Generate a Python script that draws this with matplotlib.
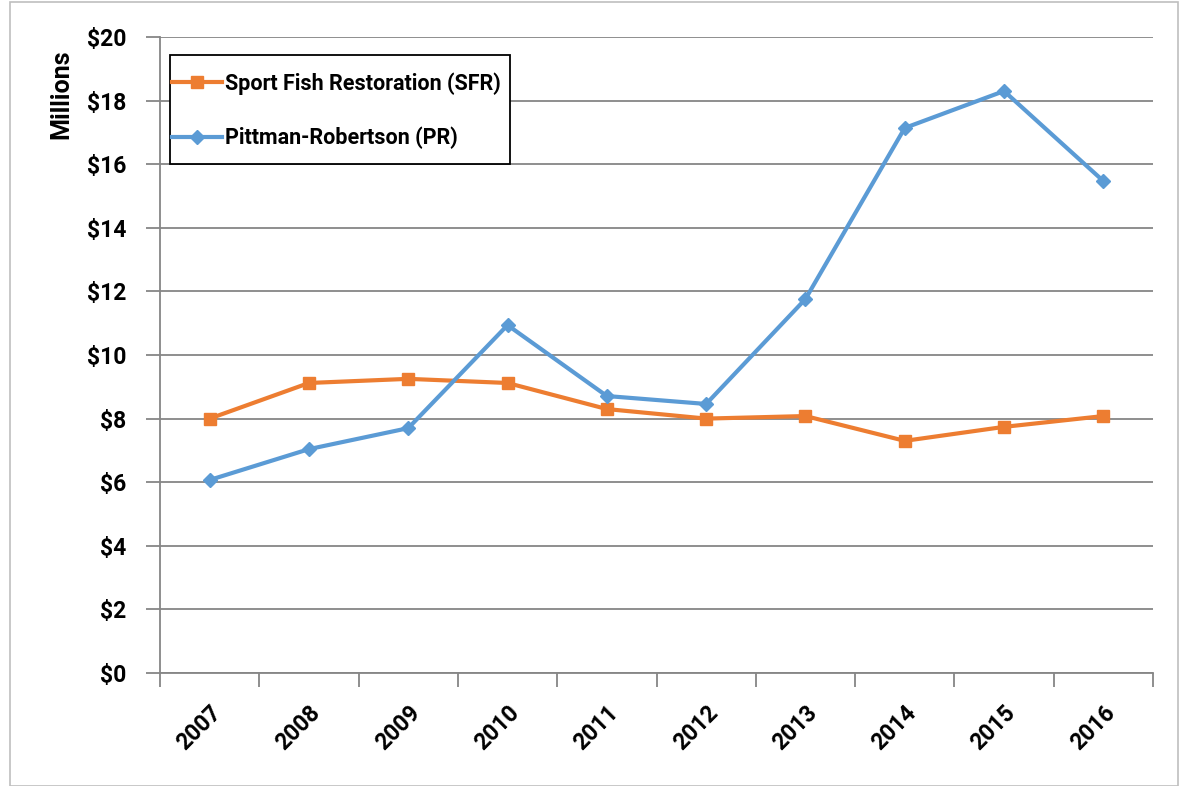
import matplotlib
matplotlib.use("Agg")
import matplotlib.pyplot as plt
from matplotlib.patches import Rectangle

years = ["2007", "2008", "2009", "2010", "2011", "2012", "2013", "2014", "2015", "2016"]
sfr = [8.0, 9.12, 9.25, 9.12, 8.3, 8.0, 8.08, 7.3, 7.74, 8.08]
pr = [6.07, 7.04, 7.7, 10.94, 8.71, 8.46, 11.76, 17.14, 18.3, 15.47]
yticks = [0, 2, 4, 6, 8, 10, 12, 14, 16, 18, 20]

plt.rcParams["font.family"] = ["Roboto", "DejaVu Sans"]

W, H = 1186, 786
fig = plt.figure(figsize=(W / 100, H / 100), dpi=100)
ax = fig.add_axes([160 / W, 1 - 673 / H, (1153 - 160) / W, (673 - 37) / H])

# figure border
fig.patches.append(Rectangle((10 / W, 0), (1178 - 10) / W, 1 - 2 / H, transform=fig.transFigure,
                             fill=False, edgecolor="#bfbfbf", lw=1.2))

x = list(range(len(years)))
ax.plot(x, sfr, color="#ed7d31", lw=3, marker="s", ms=9, label="Sport Fish Restoration (SFR)")
ax.plot(x, pr, color="#5b9bd5", lw=3, marker="D", ms=7, label="Pittman-Robertson (PR)")

ax.set_xlim(-0.5, len(years) - 0.5)
ax.set_ylim(0, 20)
ax.set_yticks(yticks)
ax.set_yticklabels(["$%d" % v for v in yticks], fontsize=16.5, fontweight="bold")
ax.set_xticks([i - 0.5 for i in range(len(years) + 1)], minor=False)
ax.set_xticklabels([])
ax.set_xticks(x, minor=True)
ax.set_xticklabels(years, minor=True, rotation=45, ha="right", rotation_mode="anchor",
                   fontsize=16.5, fontweight="bold")
ax.tick_params(axis="x", which="minor", length=0, pad=20)
ax.tick_params(axis="x", which="major", length=10, color="#868686", width=1.3)
ax.tick_params(axis="y", length=10, color="#868686", width=1.3, pad=14)

ax.grid(axis="y", color="#868686", lw=1.3)
ax.set_axisbelow(True)
for s in ["top", "right"]:
    ax.spines[s].set_visible(False)
for s in ["left", "bottom"]:
    ax.spines[s].set_color("#868686")
    ax.spines[s].set_linewidth(1.3)

ax.set_ylabel("Millions", fontsize=18, fontweight="bold")
ax.yaxis.set_label_coords(-0.087, (673 - 94) / 636)

# legend entries without frame, box drawn separately (wider vertical padding than matplotlib's)
leg = ax.legend(loc="upper left", bbox_to_anchor=(12 / 993, (673 - 72) / 636),
                prop={"weight": "bold", "size": 15.5},
                frameon=False, handlelength=2.3, borderpad=0, borderaxespad=0,
                labelspacing=1.5, handletextpad=0.15)
ax.add_patch(Rectangle((10 / 993, (673 - 164) / 636), 340 / 993, 109 / 636,
                       transform=ax.transAxes, fill=False, edgecolor="black", lw=1.3,
                       zorder=5, clip_on=False))
ax.add_patch(Rectangle((10 / 993, (673 - 164) / 636), 340 / 993, 109 / 636,
                       transform=ax.transAxes, facecolor="white", edgecolor="none",
                       zorder=2.5, clip_on=False))

fig.savefig("out.png", dpi=100)
